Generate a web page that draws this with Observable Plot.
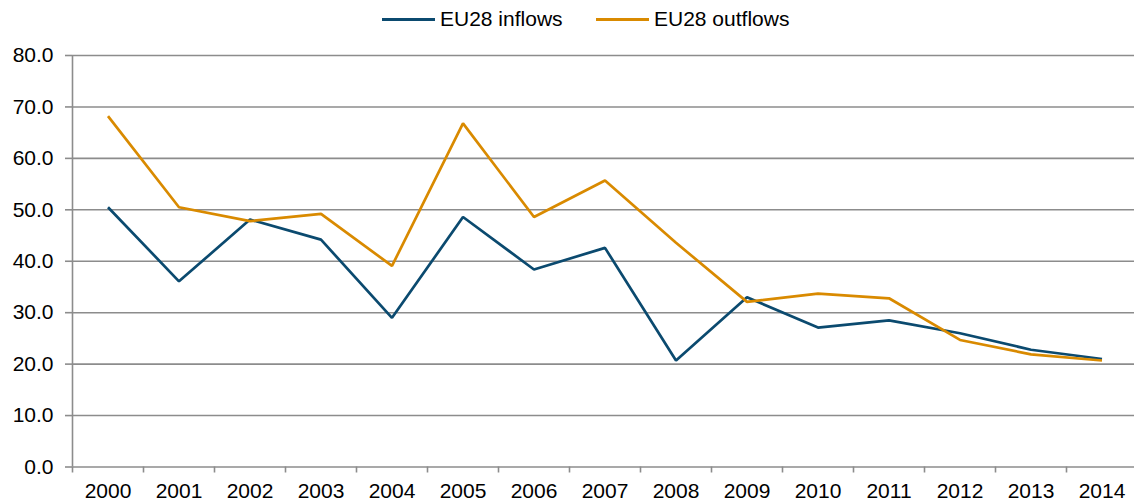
<!DOCTYPE html>
<html>
<head>
<meta charset="utf-8">
<script src="https://cdn.jsdelivr.net/npm/d3@7"></script>
<script src="https://cdn.jsdelivr.net/npm/@observablehq/plot@0.6"></script>
<style>
  html, body { margin: 0; padding: 0; background: #fff; }
  body { width: 1134px; height: 503px; overflow: hidden; font-family: "Liberation Sans", Arial, sans-serif; }
  #legend { height: 40px; position: relative; font-size: 21px; color: #000; }
  .item { position: absolute; top: 5px; display: flex; align-items: center; height: 28px; }
  .sw { width: 53px; height: 3px; margin-right: 5px; }
</style>
</head>
<body>
<div id="legend"></div>
<div id="chart"></div>
<script>
const years = ["2000","2001","2002","2003","2004","2005","2006","2007","2008","2009","2010","2011","2012","2013","2014"];
const inflows  = [50.5, 36.1, 48.1, 44.2, 29.0, 48.6, 38.4, 42.6, 20.7, 33.0, 27.1, 28.5, 26.0, 22.8, 21.0];
const outflows = [68.2, 50.5, 47.8, 49.2, 39.1, 66.8, 48.6, 55.7, 43.6, 32.1, 33.7, 32.8, 24.7, 21.9, 20.7];
const seriesNames = ["EU28 inflows", "EU28 outflows"];
const seriesColors = ["#0b4a6f", "#d98a00"];
const yTicks = [0, 10, 20, 30, 40, 50, 60, 70, 80];

const data = [];
years.forEach((yr, i) => {
  data.push({i, year: yr, series: seriesNames[0], value: inflows[i]});
  data.push({i, year: yr, series: seriesNames[1], value: outflows[i]});
});
const idx = years.map((_, i) => i);
const bounds = d3.range(years.length + 1).map(k => k - 0.5);

// legend
const legend = document.getElementById("legend");
const lefts = [382, 596];
seriesNames.forEach((name, k) => {
  const it = document.createElement("div");
  it.className = "item";
  it.style.left = lefts[k] + "px";
  const sw = document.createElement("div");
  sw.className = "sw";
  sw.style.background = seriesColors[k];
  const tx = document.createElement("span");
  tx.textContent = name;
  it.appendChild(sw); it.appendChild(tx);
  legend.appendChild(it);
});

const grid = "#8c8c8c";
const chart = Plot.plot({
  width: 1134,
  height: 463,
  marginTop: 15,
  marginBottom: 36.5,
  marginLeft: 72,
  marginRight: -3,
  style: {fontFamily: "'Liberation Sans', Arial, sans-serif", fontSize: "21px", color: "#000", background: "#fff"},
  x: {type: "linear", domain: [-0.5, years.length - 0.5]},
  y: {domain: [0, 80]},
  color: {domain: seriesNames, range: seriesColors},
  marks: [
    Plot.ruleY(yTicks, {stroke: grid, strokeWidth: 1.6, x1: -0.5, x2: years.length - 0.5}),
    Plot.ruleX([-0.5], {stroke: grid, strokeWidth: 1.6, y1: 0, y2: 80}),
    Plot.axisY({ticks: yTicks, tickFormat: d => d.toFixed(1), tickSize: 7, tickPadding: 12, stroke: grid, strokeWidth: 1.6, label: null, fill: "#000"}),
    Plot.axisX({ticks: bounds, tickFormat: () => "", tickSize: 6, stroke: grid, strokeWidth: 1.6, label: null}),
    Plot.axisX({ticks: idx, tickFormat: i => years[i], tickSize: 0, tickPadding: 16, label: null, fill: "#000"}),
    Plot.line(data, {x: "i", y: "value", z: "series", stroke: "series", strokeWidth: 2.7, strokeLinejoin: "miter", strokeLinecap: "butt"})
  ]
});
document.getElementById("chart").appendChild(chart);
</script>
</body>
</html>
